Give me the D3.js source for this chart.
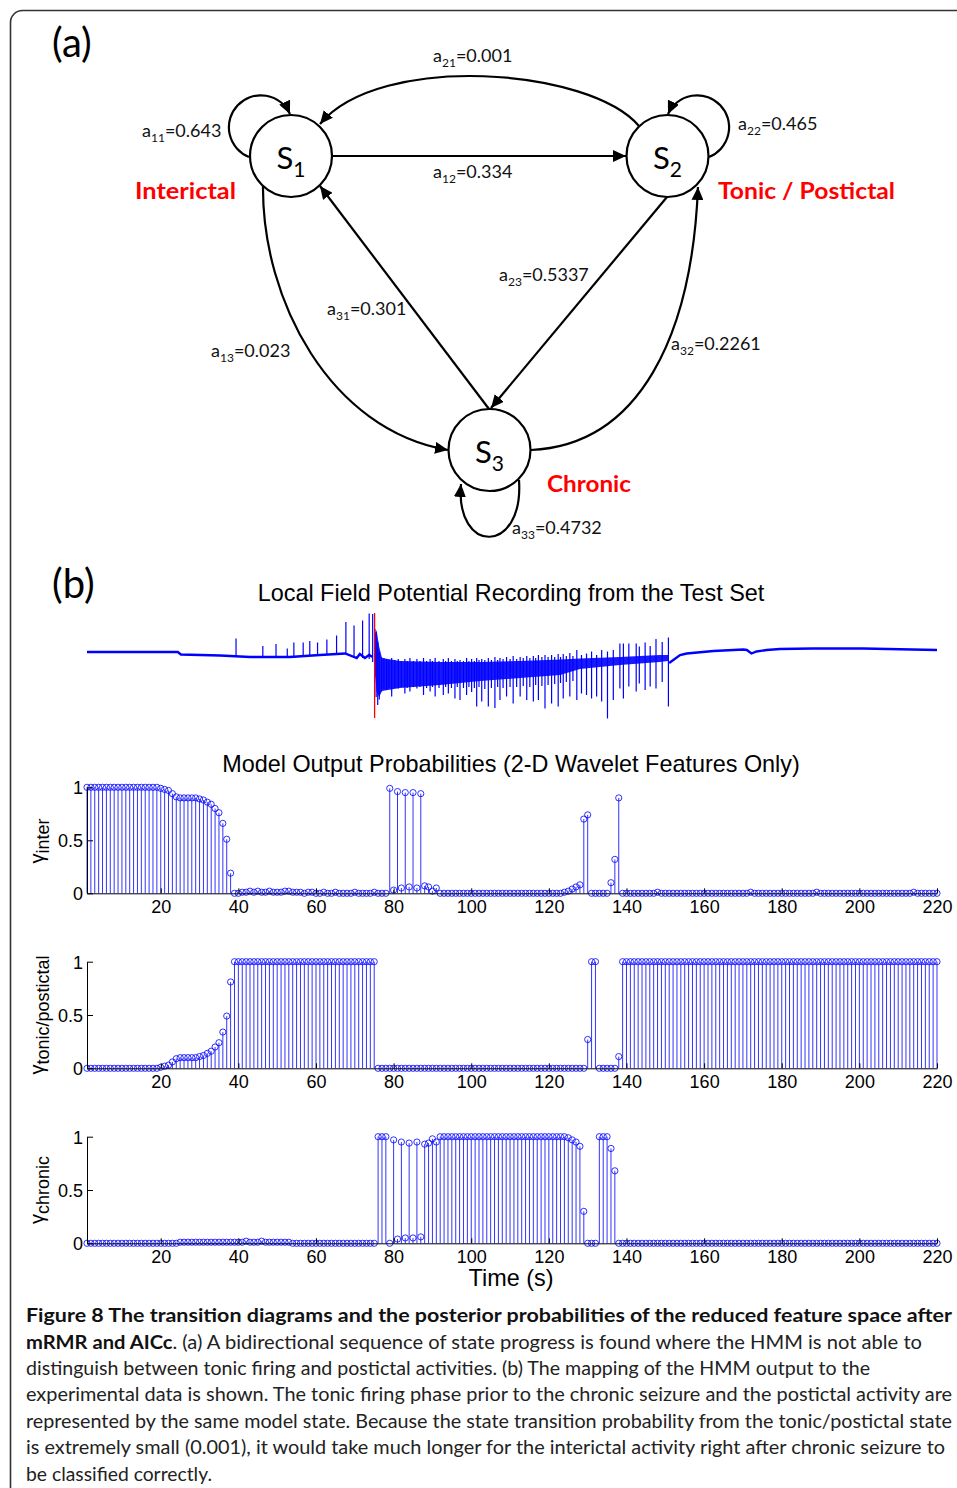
<!DOCTYPE html>
<html>
<head>
<meta charset="utf-8">
<script src="https://cdn.jsdelivr.net/npm/d3@7"></script>
<style>
  body { margin: 0; background: #fff; }
  svg { display: block; }
</style>
</head>
<body>
<svg id="fig" width="957" height="1488"></svg>
<script>
// ---- data: (a) transition diagram ----
const stateNames = ['Interictal', 'Tonic / Postictal', 'Chronic'];
const transKeys = ['11', '21', '12', '22', '23', '31', '13', '32', '33'];
const transProb = [0.643, 0.001, 0.334, 0.465, 0.5337, 0.301, 0.023, 0.2261, 0.4732];

// ---- data: (b) LFP trace (time in s, amplitude in arbitrary units) ----
const preT = [1, 24.4, 25.2, 35.3, 43.0, 53.3, 61.0, 67.5, 70.5, 71.3, 72.6, 73.7, 74.6];
const preV = [0, 0, -0.05, -0.07, -0.10, -0.10, -0.06, -0.03, -0.12, -0.04, -0.12, -0.06, -0.10];
const preSpikeT = [39.4, 46.3, 49.7, 52.6, 54.3, 56.7, 58.4, 60.4, 62.8, 65.3, 67.7, 69.8, 72.0, 73.7, 74.6];
const preSpikeTop = [0.27, 0.12, 0.16, 0.07, 0.19, 0.19, 0.22, 0.19, 0.25, 0.33, 0.60, 0.53, 0.63, 0.77, 0.76];
const preSpikeBot = [-0.10, -0.10, -0.10, -0.10, -0.09, -0.08, -0.07, -0.06, -0.05, -0.04, -0.04, -0.10, -0.12, -0.14, -0.20];

const bandT = [75.0, 75.6, 76.3, 77.0, 81.6, 92.0, 102.3, 112.6, 122.9, 128.0, 138.3, 148.6, 150.7];
const bandHi = [0.30, 0.44, 0.10, -0.12, -0.18, -0.20, -0.20, -0.18, -0.15, -0.13, -0.10, -0.06, -0.06];
const bandLo = [-0.20, -0.80, -0.90, -0.78, -0.72, -0.66, -0.58, -0.52, -0.46, -0.34, -0.26, -0.20, -0.18];

const szT = [75.2, 75.5, 75.9, 76.3, 76.9, 77.5, 78.2, 78.8, 79.5, 80.3, 81.2, 82.0, 82.9, 83.5, 84.2, 85.1,
  86.0, 86.8, 87.7, 88.5, 89.4, 90.0, 90.7, 91.7, 92.8, 93.4, 94.1, 94.9, 95.8, 96.4, 97.1, 98.0,
  98.8, 99.4, 100.1, 100.8, 101.4, 102.0, 102.7, 103.5, 104.4, 105.2, 106.1, 106.8, 107.4, 108.2, 109.1, 110.0,
  110.8, 111.7, 112.6, 113.4, 114.3, 115.1, 116.0, 116.6, 117.3, 118.2, 119.0, 119.8, 120.7, 121.5, 122.4, 123.0,
  123.7, 124.5, 125.4, 126.2, 127.2, 128.4, 129.7, 131.0, 132.3, 133.6, 135.1, 136.6, 138.3, 139.2, 140.6, 142.5,
  143.3, 144.8, 146.1, 147.6, 149.2, 150.8];
const szTop = [0.46, 0.40, 0.20, 0.0, -0.10, -0.12, -0.14, -0.16, -0.12, -0.16, -0.14, -0.18, -0.14, -0.18, -0.12, -0.18,
  -0.14, -0.18, -0.12, -0.18, -0.14, -0.18, -0.12, -0.18, -0.14, -0.18, -0.12, -0.18, -0.14, -0.18, -0.16, -0.18,
  -0.12, -0.18, -0.14, -0.18, -0.12, -0.16, -0.14, -0.16, -0.12, -0.16, -0.10, -0.16, -0.12, -0.14, -0.10, -0.14,
  -0.08, -0.14, -0.10, -0.12, -0.08, -0.12, -0.08, -0.12, -0.06, -0.10, -0.06, -0.10, -0.06, -0.10, -0.04, -0.10,
  -0.04, -0.08, -0.02, -0.08, 0.04, -0.06, -0.03, 0.01, -0.06, 0.04, 0.01, 0.04, 0.17, 0.17, 0.17, 0.17,
  0.11, 0.19, 0.12, 0.26, 0.20, 0.29];
const szBot = [-0.50, -0.90, -1.06, -0.95, -0.79, -0.74, -0.76, -0.72, -0.89, -0.72, -0.73, -0.70, -0.83, -0.72, -0.79, -0.70,
  -0.73, -0.70, -0.86, -0.72, -0.79, -0.70, -0.89, -0.72, -0.86, -0.70, -0.83, -0.72, -0.93, -0.70, -0.96, -0.72,
  -0.86, -0.70, -0.80, -0.72, -1.09, -0.70, -0.99, -0.74, -1.09, -0.72, -1.12, -0.70, -0.96, -0.72, -0.89, -0.70,
  -1.03, -0.70, -0.89, -0.68, -0.96, -0.70, -0.99, -0.66, -0.96, -0.68, -1.13, -0.66, -1.03, -0.64, -1.09, -0.62,
  -0.93, -0.60, -0.89, -0.58, -0.96, -0.83, -0.86, -0.93, -0.89, -0.99, -1.33, -0.96, -0.73, -0.93, -0.69, -0.79,
  -0.63, -0.76, -0.69, -0.73, -0.60, -1.09];

const postT = [151.0, 153.8, 155.5, 162.4, 170.1, 171.0, 172.2, 173.5, 176.1, 179.5, 188.0, 200.9, 220];
const postV = [-0.22, -0.06, -0.03, 0.02, 0.05, 0.04, -0.03, 0.01, 0.04, 0.06, 0.07, 0.07, 0.04];
const onsetT = 75.1;
const onsetSpan = [0.78, -1.32];

// ---- data: (b) posterior probabilities, one value per second (t = 1..220) ----
const gammaInter = [
  1,1,1,1,1,1,1,1,1,1,1,1,1,1,1,1,1,1,1,0.99,
  0.98,0.97,0.94,0.91,0.90,0.90,0.90,0.90,0.90,0.89,0.88,0.86,0.84,0.80,0.76,0.66,0.51,0.19,0,0,
  0.01,0.01,0.02,0.01,0.02,0.01,0.01,0.02,0.01,0.01,0.01,0.02,0.02,0.01,0.01,0.01,0,0.01,0.01,0,
  0,0.01,0,0,0.01,0,0,0,0,0.01,0,0,0,0,0.01,0,0,0,0.99,0.03,
  0.96,0.05,0.95,0.06,0.95,0.05,0.94,0.07,0.06,0.02,0.05,0,0,0,0,0,0,0,0,0,
  0,0,0,0,0,0,0,0,0,0,0,0,0,0,0,0,0,0,0,0,
  0,0,0,0.01,0.02,0.04,0.06,0.08,0.70,0.74,0,0,0,0,0,0.10,0.32,0.90,0,0,
  0,0,0,0,0,0,0,0.01,0,0,0,0,0,0,0,0,0,0,0,0,
  0,0,0,0,0,0,0,0,0,0,0,0.01,0,0,0,0,0,0,0,0,
  0,0,0,0,0,0,0,0,0.01,0,0,0,0,0,0,0,0,0,0,0,
  0,0,0,0,0,0,0,0,0,0,0,0,0,0.01,0,0,0,0,0,0
];
const gammaTonic = [
  0,0,0,0,0,0,0,0,0,0,0,0,0,0,0,0,0,0,0,0.01,
  0.02,0.03,0.06,0.09,0.10,0.10,0.10,0.10,0.10,0.11,0.12,0.14,0.16,0.20,0.24,0.34,0.49,0.81,1,1,
  1,1,1,1,1,1,1,1,1,1,1,1,1,1,1,1,1,1,1,1,
  1,1,1,1,1,1,1,1,1,1,1,1,1,1,1,0,0,0,0,0,
  0,0,0,0,0,0,0,0,0,0,0,0,0,0,0,0,0,0,0,0,
  0,0,0,0,0,0,0,0,0,0,0,0,0,0,0,0,0,0,0,0,
  0,0,0,0,0,0,0,0,0,0.27,1,1,0,0,0,0,0,0.11,1,1,
  1,1,1,1,1,1,1,1,1,1,1,1,1,1,1,1,1,1,1,1,
  1,1,1,1,1,1,1,1,1,1,1,1,1,1,1,1,1,1,1,1,
  1,1,1,1,1,1,1,1,1,1,1,1,1,1,1,1,1,1,1,1,
  1,1,1,1,1,1,1,1,1,1,1,1,1,1,1,1,1,1,1,1
];
const gammaChronic = [
  0,0,0,0,0,0,0,0,0,0,0,0,0,0,0,0,0,0,0,0,
  0,0,0,0,0.01,0.01,0.01,0.01,0.01,0.01,0.01,0.01,0.01,0.01,0.01,0.01,0.01,0.01,0.01,0.01,
  0.01,0.02,0.01,0.01,0.01,0.02,0.01,0.01,0.01,0.01,0.01,0.01,0.01,0,0,0,0,0,0,0,
  0,0,0,0,0,0,0,0,0,0,0,0,0,0,0,1,1,1,0,0.97,
  0.04,0.95,0.05,0.94,0.05,0.95,0.06,0.93,0.94,0.98,0.95,1,1,1,1,1,1,1,1,1,
  1,1,1,1,1,1,1,1,1,1,1,1,1,1,1,1,1,1,1,1,
  1,1,1,1,0.99,0.97,0.95,0.91,0.30,0,0,0,1,1,1,0.89,0.68,0,0,0,
  0,0,0,0,0,0,0,0,0,0,0,0,0,0,0,0,0,0,0,0,
  0,0,0,0,0,0,0,0,0,0,0,0,0,0,0,0,0,0,0,0,
  0,0,0,0,0,0,0,0,0,0,0,0,0,0,0,0,0,0,0,0,
  0,0,0,0,0,0,0,0,0,0,0,0,0,0,0,0,0,0,0,0
];
const xTicks = [20, 40, 60, 80, 100, 120, 140, 160, 180, 200, 220];
const yTicks = [0, 0.5, 1];

const captionLines = [
  'distinguish between tonic firing and postictal activities. (b) The mapping of the HMM output to the',
  'experimental data is shown. The tonic firing phase prior to the chronic seizure and the postictal activity are',
  'represented by the same model state. Because the state transition probability from the tonic/postictal state',
  'is extremely small (0.001), it would take much longer for the interictal activity right after chronic seizure to',
  'be classified correctly.'
];

// ------------------------------------------------------------------
const svg = d3.select('#fig');
const diagFont = 'Lato, "Open Sans", sans-serif';
const plotFont = '"Liberation Sans", Arial, sans-serif';
const blue = '#0000ff';

// frame
svg.append('rect')
  .attr('x', 10.5).attr('y', 10.5).attr('width', 1000).attr('height', 1600)
  .attr('rx', 12).attr('fill', 'none').attr('stroke', '#333').attr('stroke-width', 1.6);

svg.append('text').attr('x', 52).attr('y', 57).attr('font-family', diagFont)
  .attr('font-size', 40).text('(a)');
svg.append('text').attr('x', 52).attr('y', 598).attr('font-family', diagFont)
  .attr('font-size', 40).text('(b)');

// ---------- (a) ----------
svg.append('defs').append('marker')
  .attr('id', 'arr').attr('viewBox', '0 0 13 12')
  .attr('refX', 13).attr('refY', 6)
  .attr('markerWidth', 13).attr('markerHeight', 12)
  .attr('markerUnits', 'userSpaceOnUse').attr('orient', 'auto')
  .append('path').attr('d', 'M0,0 L13,6 L0,12 Z').attr('fill', '#000');

const nodePos = [[291, 156], [667.5, 156], [489.5, 450]];
const edgePath = {
  '11': 'M249,157 A32,32 0 1 1 290,114',
  '21': 'M639,126 C590,68 380,52 320,124',
  '12': 'M332,156 L626,156',
  '22': 'M709,157 A32,32 0 1 0 668,114',
  '23': 'M667,197 L491,408',
  '31': 'M489,409 L320,186',
  '13': 'M263,186 C262,300 330,430 448,450',
  '32': 'M531,450 C640,445 692,335 698,187',
  '33': 'M519,480 C524,555 455,555 461,484'
};
const edgeLabelPos = {
  '11': [142, 137], '21': [433, 62], '12': [433, 178], '22': [738, 130], '23': [499, 281],
  '31': [327, 315], '13': [211, 357], '32': [671, 350], '33': [512, 534]
};

const gd = svg.append('g');
gd.selectAll('path.edge').data(transKeys).join('path')
  .attr('class', 'edge')
  .attr('d', k => edgePath[k])
  .attr('fill', 'none').attr('stroke', '#000').attr('stroke-width', 2.2)
  .attr('marker-end', 'url(#arr)');

gd.selectAll('circle.state').data(nodePos).join('circle')
  .attr('class', 'state')
  .attr('cx', d => d[0]).attr('cy', d => d[1]).attr('r', 41)
  .attr('fill', '#fff').attr('stroke', '#000').attr('stroke-width', 2.2);

const sLab = gd.selectAll('text.s').data(nodePos).join('text')
  .attr('class', 's')
  .attr('x', d => d[0] - 14.5).attr('y', d => d[1] + 13)
  .attr('font-family', diagFont).attr('font-size', 31);
sLab.append('tspan').text('S');
sLab.append('tspan').attr('font-size', 21).attr('dy', 8).text((d, i) => i + 1);

const eLab = gd.selectAll('text.p').data(transKeys).join('text')
  .attr('class', 'p')
  .attr('x', k => edgeLabelPos[k][0]).attr('y', k => edgeLabelPos[k][1])
  .attr('font-family', diagFont).attr('font-size', 18).attr('fill', '#111');
eLab.append('tspan').text('a');
eLab.append('tspan').attr('font-size', 12).attr('dy', 5).text(k => k);
eLab.append('tspan').attr('dy', -5).text((k, i) => '=' + transProb[i]);

const namePos = [[135, 199, 101], [718, 199, 177], [547, 492, 84]];
gd.selectAll('text.name').data(stateNames).join('text')
  .attr('class', 'name')
  .attr('x', (d, i) => namePos[i][0]).attr('y', (d, i) => namePos[i][1])
  .attr('textLength', (d, i) => namePos[i][2]).attr('lengthAdjust', 'spacingAndGlyphs')
  .attr('font-family', diagFont).attr('font-size', 23).attr('font-weight', 700)
  .attr('fill', '#ff0000').text(d => d);

// ---------- (b) ----------
const x = d3.scaleLinear().domain([1, 220]).range([87, 937]);
const lfpY = d3.scaleLinear().domain([-1.4, 0.9]).range([722, 607]);

svg.append('text').attr('x', 511).attr('y', 601).attr('text-anchor', 'middle')
  .attr('font-family', plotFont).attr('font-size', 23.4)
  .text('Local Field Potential Recording from the Test Set');

const gl = svg.append('g');
const lineGen = d3.line().x(d => x(d[0])).y(d => lfpY(d[1]));
const bandGen = d3.area().x(d => x(d[0])).y1(d => lfpY(d[1])).y0(d => lfpY(d[2]));

gl.append('path').datum(d3.zip(bandT, bandHi, bandLo)).attr('d', bandGen)
  .attr('fill', blue).attr('fill-opacity', 0.9);
gl.append('path').datum(d3.zip(preT, preV)).attr('d', lineGen)
  .attr('fill', 'none').attr('stroke', blue).attr('stroke-width', 2.4);
gl.append('path').datum(d3.zip(postT, postV)).attr('d', lineGen)
  .attr('fill', 'none').attr('stroke', blue).attr('stroke-width', 2.4);
gl.selectAll('line.pre').data(d3.zip(preSpikeT, preSpikeTop, preSpikeBot)).join('line')
  .attr('class', 'pre')
  .attr('x1', d => x(d[0])).attr('x2', d => x(d[0]))
  .attr('y1', d => lfpY(d[2])).attr('y2', d => lfpY(d[1]))
  .attr('stroke', blue).attr('stroke-width', 1.2);
gl.selectAll('line.sz').data(d3.zip(szT, szTop, szBot)).join('line')
  .attr('class', 'sz')
  .attr('x1', d => x(d[0])).attr('x2', d => x(d[0]))
  .attr('y1', d => lfpY(d[2])).attr('y2', d => lfpY(d[1]))
  .attr('stroke', blue).attr('stroke-width', 1.2);
gl.append('line')
  .attr('x1', x(onsetT)).attr('x2', x(onsetT))
  .attr('y1', lfpY(onsetSpan[0])).attr('y2', lfpY(onsetSpan[1]))
  .attr('stroke', '#ff0000').attr('stroke-width', 1.3);

svg.append('text').attr('x', 511).attr('y', 772).attr('text-anchor', 'middle')
  .attr('font-family', plotFont).attr('font-size', 23.4)
  .text('Model Output Probabilities (2-D Wavelet Features Only)');

const panels = [
  { values: gammaInter, sub: 'inter', y0: 893.3, y1: 787.3, labY: 841 },
  { values: gammaTonic, sub: 'tonic/postictal', y0: 1068.3, y1: 961.7, labY: 1015 },
  { values: gammaChronic, sub: 'chronic', y0: 1243.3, y1: 1136.7, labY: 1190 }
];

panels.forEach(p => {
  const y = d3.scaleLinear().domain([0, 1]).range([p.y0, p.y1]);
  const g = svg.append('g');
  const pts = p.values.map((v, i) => [i + 1, v]);

  g.selectAll('line.stem').data(pts).join('line')
    .attr('class', 'stem')
    .attr('x1', d => x(d[0])).attr('x2', d => x(d[0]))
    .attr('y1', y(0)).attr('y2', d => y(d[1]))
    .attr('stroke', blue).attr('stroke-opacity', 0.8).attr('stroke-width', 1);
  g.selectAll('circle.mk').data(pts).join('circle')
    .attr('class', 'mk')
    .attr('cx', d => x(d[0])).attr('cy', d => y(d[1])).attr('r', 3.1)
    .attr('fill', 'none').attr('stroke', blue).attr('stroke-opacity', 0.8).attr('stroke-width', 1);

  const xa = g.append('g').attr('transform', `translate(0,${p.y0})`)
    .call(d3.axisBottom(x).tickValues(xTicks).tickSizeInner(-5).tickSizeOuter(0).tickPadding(7));
  const ya = g.append('g').attr('transform', 'translate(87,0)')
    .call(d3.axisLeft(y).tickValues(yTicks).tickSizeInner(-6).tickSizeOuter(0).tickPadding(4)
      .tickFormat(d => d === 0.5 ? '0.5' : String(d)));
  [xa, ya].forEach(a => {
    a.selectAll('text').attr('font-family', plotFont).attr('font-size', 18).attr('fill', '#000');
    a.select('.domain').attr('stroke', '#000');
    a.selectAll('.tick line').attr('stroke', '#000');
  });
  ya.selectAll('text').attr('dy', '0.36em');

  const lab = svg.append('text')
    .attr('transform', `translate(44,${p.labY}) rotate(-90)`)
    .attr('text-anchor', 'middle').attr('font-family', plotFont).attr('font-size', 20);
  lab.append('tspan').text('γ');
  lab.append('tspan').attr('dy', 5).attr('font-size', 18).text(p.sub);
});

svg.append('text').attr('x', 511).attr('y', 1286).attr('text-anchor', 'middle')
  .attr('font-family', plotFont).attr('font-size', 23.4).text('Time (s)');

// ---------- caption ----------
const capFont = 'Lato, "Open Sans", sans-serif';
const capX = 26;
svg.append('text').attr('x', capX).attr('y', 1322)
  .attr('font-family', capFont).attr('font-size', 19.5).attr('font-weight', 700).attr('fill', '#111')
  .attr('textLength', 926).attr('lengthAdjust', 'spacingAndGlyphs')
  .text('Figure 8 The transition diagrams and the posterior probabilities of the reduced feature space after');
const l2 = svg.append('text').attr('x', capX).attr('y', 1348.5)
  .attr('font-family', capFont).attr('font-size', 19.5).attr('fill', '#222')
  .attr('textLength', 896).attr('lengthAdjust', 'spacingAndGlyphs');
l2.append('tspan').attr('font-weight', 700).attr('fill', '#111').text('mRMR and AICc');
l2.append('tspan').text('. (a) A bidirectional sequence of state progress is found where the HMM is not able to');

const capWidths = [844, 926, 926, 919, 186];
svg.selectAll('text.cap').data(captionLines).join('text')
  .attr('class', 'cap')
  .attr('x', capX).attr('y', (d, i) => 1375 + i * 26.4)
  .attr('font-family', capFont).attr('font-size', 19.5).attr('fill', '#222')
  .attr('textLength', (d, i) => capWidths[i]).attr('lengthAdjust', 'spacingAndGlyphs')
  .text(d => d);
</script>
</body>
</html>
